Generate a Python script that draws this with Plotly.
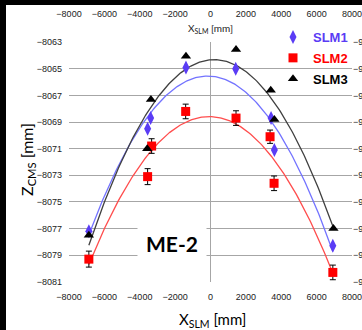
import numpy as np
import plotly.graph_objects as go

# Survey points: X_SLM [mm] and Z_CMS [mm] for the three straight-line monitors
x_slm1 = [-6877, -3555, -3385, -1387, 1426, 3424, 3611, 6917]
z_slm1 = [-8077.2, -8069.5, -8068.7, -8064.9, -8065.0, -8068.7, -8071.1, -8078.3]

x_slm2 = [-6877, -3555, -3328, -1404, 1443, 3368, 3594, 6917]
z_slm2 = [-8079.3, -8073.1, -8070.8, -8068.2, -8068.7, -8070.1, -8073.6, -8080.3]
err_slm2 = [0.6, 0.6, 0.55, 0.55, 0.55, 0.5, 0.55, 0.55]

x_slm3 = [-6877, -3577, -3368, -1387, 1443, 3407, 3611, 6951]
z_slm3 = [-8077.5, -8071.0, -8067.3, -8064.05, -8063.55, -8066.6, -8068.8, -8077.0]

y_ticks = [-8063, -8065, -8067, -8069, -8071, -8073, -8075, -8077, -8079, -8081]
x_ticks = [-8000, -6000, -4000, -2000, 0, 2000, 4000, 6000, 8000]

series = [
    ("SLM1", x_slm1, z_slm1, None, "#5a3cf5", "#7373ff", "diamond-tall", 10),
    ("SLM2", x_slm2, z_slm2, err_slm2, "#ff0000", "#ff4d4d", "square", 9),
    ("SLM3", x_slm3, z_slm3, None, "#000000", "#404040", "triangle-up", 9),
]

W, H = 362, 330
L, R, T, B = 69, 10, 42, 48
pw, ph = W - L - R, H - T - B


def px(x):
    return (x - L) / pw


def py(y):
    return 1 - (y - T) / ph


fig = go.Figure()

# second-order fits through each monitor's points
for name, xs, zs, err, mcol, lcol, sym, size in series:
    coef = np.polyfit(xs, zs, 2)
    xf = np.linspace(min(xs), max(xs), 200)
    fig.add_trace(go.Scatter(x=xf, y=np.polyval(coef, xf), mode="lines",
                             line=dict(color=lcol, width=1.3),
                             showlegend=False, hoverinfo="skip"))

for name, xs, zs, err, mcol, lcol, sym, size in series:
    fig.add_trace(go.Scatter(
        x=xs, y=zs, mode="markers",
        name=f'<span style="color:{mcol}">{name}</span>',
        legendgroup=name,
        marker=dict(symbol=sym, size=size, color=mcol, line=dict(width=0)),
        error_y=(dict(type="data", array=err, visible=True, color="#000000",
                      thickness=1, width=3) if err else None),
    ))

# carriers for the mirrored top and right axes
fig.add_trace(go.Scatter(x=x_slm3, y=z_slm3, xaxis="x2", yaxis="y", mode="markers",
                         marker=dict(opacity=0), showlegend=False, hoverinfo="skip"))
fig.add_trace(go.Scatter(x=x_slm3, y=[z - 1000 for z in z_slm3], xaxis="x", yaxis="y2",
                         mode="markers", marker=dict(opacity=0), showlegend=False,
                         hoverinfo="skip"))

tick_font = dict(family="Liberation Sans Narrow, Liberation Sans, Arial", size=9, color="#222222")
yr = [-8081.02, -8062.98]
title_font = "Lato, Open Sans"

fig.update_layout(
    width=W, height=H,
    margin=dict(l=L, r=R, t=T, b=B, autoexpand=False),
    paper_bgcolor="white", plot_bgcolor="white",
    xaxis=dict(range=[-8000, 8000], tickvals=x_ticks, showgrid=False, automargin=False,
               zeroline=True, zerolinecolor="#a6a6a6", zerolinewidth=1,
               showline=False, ticks="", tickfont=tick_font, ticklabelstandoff=8,
               ticklabeloverflow="allow"),
    xaxis2=dict(range=[-8000, 8000], tickvals=x_ticks, overlaying="x", side="top",
                showgrid=False, zeroline=False, showline=False, ticks="", automargin=False,
                tickfont=tick_font, ticklabelstandoff=22, anchor="y",
                ticklabeloverflow="allow"),
    yaxis=dict(range=yr, tickvals=y_ticks, showgrid=True, gridcolor="#a6a6a6",
               gridwidth=1, zeroline=False, showline=False, ticks="", automargin=False,
               tickfont=tick_font, ticklabelstandoff=6),
    yaxis2=dict(range=[yr[0] - 1000, yr[1] - 1000], dtick=2, tick0=-9063,
                overlaying="y", side="right", showgrid=False, zeroline=False,
                showline=False, ticks="", tickfont=tick_font, automargin=False,
                ticklabeloverflow="allow"),
    legend=dict(x=px(273), y=py(22), xanchor="left", yanchor="top",
                bgcolor="rgba(0,0,0,0)", borderwidth=0, tracegroupgap=1,
                font=dict(family="Liberation Sans", size=13, color="#000000",
                          weight="bold"),
                itemwidth=30),
    showlegend=True,
    annotations=[
        dict(text="ME-2", x=-2200, y=-8078.1, xref="x", yref="y",
             xanchor="center", yanchor="middle",
             showarrow=False, bgcolor="white", borderpad=8,
             font=dict(family=title_font, size=21, color="#000000", weight="bold")),
        dict(text="X<sub>SLM</sub> [mm]", x=px(210), y=py(29), xref="paper", yref="paper",
             xanchor="center", yanchor="middle", showarrow=False,
             font=dict(family=title_font, size=10, color="#222222")),
        dict(text="X<sub>SLM</sub> [mm]", x=px(212), y=py(320), xref="paper", yref="paper",
             xanchor="center", yanchor="middle", showarrow=False,
             font=dict(family=title_font, size=15, color="#000000")),
        dict(text="Z<sub>CMS</sub> [mm]", x=px(27), y=py(160), xref="paper", yref="paper",
             xanchor="center", yanchor="middle", textangle=-90, showarrow=False,
             font=dict(family=title_font, size=16, color="#000000")),
    ],
    shapes=[
        # white panel behind the legend, masking the grid
        dict(type="rect", xref="paper", yref="paper", x0=px(277), x1=px(352),
             y0=py(88), y1=py(26), fillcolor="white", line_width=0, layer="between"),
        dict(type="rect", xref="paper", yref="paper", x0=px(0), x1=px(6),
             y0=py(H), y1=py(0), fillcolor="black", line_width=0, layer="above"),
        dict(type="rect", xref="paper", yref="paper", x0=px(0), x1=px(W),
             y0=py(5), y1=py(0), fillcolor="black", line_width=0, layer="above"),
    ],
)

fig.write_html("out.html")
